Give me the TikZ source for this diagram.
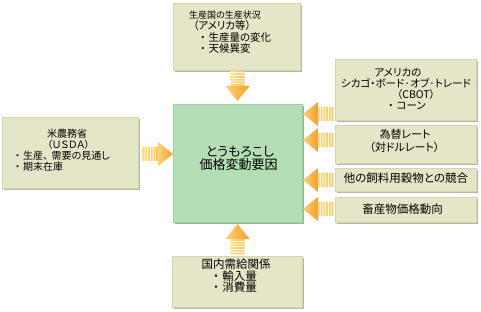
\documentclass[tikz,border=0pt]{standalone}
\usepackage{fontspec}
\setmainfont[RawFeature=+palt]{Noto Sans CJK JP}
\usetikzlibrary{shadows,calc}

\definecolor{boxfill}{HTML}{E5E5C7}
\definecolor{boxedge}{HTML}{D4D4B6}
\definecolor{boxshadow}{HTML}{B8B89C}
\definecolor{mainfill}{HTML}{B4DEB4}
\definecolor{mainedge}{HTML}{A4CEA4}
\definecolor{mainshadow}{HTML}{92B692}
\definecolor{arrowlight}{HTML}{FFDD88}
\definecolor{arrowdark}{HTML}{F2A02C}

% bullet followed by a small gap
\newcommand{\bul}{・\hspace{0.3em}}

\tikzset{
  panel/.style={rectangle, inner sep=0pt, outer sep=0pt, fill=boxfill,
    draw=boxedge, line width=0.5pt,
    drop shadow={shadow xshift=1.6pt, shadow yshift=-1.6pt, fill=boxshadow, opacity=1}},
  mainpanel/.style={rectangle, inner sep=0pt, outer sep=0pt, fill=mainfill,
    draw=mainedge, line width=0.5pt,
    drop shadow={shadow xshift=1.6pt, shadow yshift=-1.6pt, fill=mainshadow, opacity=1}},
  txt/.style={inner sep=0pt, text height=0.88em, text depth=0.12em,
    font=\fontsize{#1}{#1}\selectfont},
  txt/.default=10.5,
  % striped block arrow, tip at the origin, pointing along +x
  pics/blockarrow/.style={code={
    \shade[left color=arrowlight!80!arrowdark, right color=arrowdark]
      (0,0) -- (-15,12) -- (-15,-12) -- cycle;
    \shade[left color=arrowlight, right color=arrowlight!60!arrowdark]
      \foreach \i in {0,...,5} { (-16.8-\i*2.7,-7) rectangle ++(1.8,14) };
  }}
}

\begin{document}
\begin{tikzpicture}[x=1pt, y=-1pt]
  \useasboundingbox[fill=white] (0,0) rectangle (481,312);

  % panels
  \node[panel, minimum width=127pt, minimum height=67pt] (top) at (236.5,36.5) {};
  \node[panel, minimum width=141pt, minimum height=61pt] (r1) at (405.5,89.5) {};
  \node[panel, minimum width=141pt, minimum height=38pt] (r2) at (405.5,144) {};
  \node[panel, minimum width=141pt, minimum height=23pt] (r3) at (405.5,179.5) {};
  \node[panel, minimum width=141pt, minimum height=25pt] (r4) at (405.5,209.5) {};
  \node[panel, minimum width=136pt, minimum height=71pt] (usda) at (70,152.5) {};
  \node[panel, minimum width=130pt, minimum height=51pt] (bottom) at (237,281.5) {};
  \node[mainpanel, minimum width=129pt, minimum height=118pt] (main) at (237.5,163) {};

  % texts of the upper panel
  \node[txt=9, anchor=west] (t1) at (189,15) {生産国の生産状況};
  \node[txt, anchor=west] (t2) at (193,26) {（アメリカ等）};
  \node[txt, anchor=west] (t3) at (200,37.5) {\bul 生産量の変化};
  \node[txt, anchor=west] (t4) at (200,49) {\bul 天候異変};

  % texts of the right-hand panels
  \node[txt] (a1) at (398,73) {アメリカの};
  \node[txt] (a2) at (406,84) {シカゴ・ボード·オブ·トレード};
  \node[txt] (a3) at (416,95) {（CBOT）};
  \node[txt] (a4) at (407,106) {\bul コーン};
  \node[txt=11] (b1) at (405,135) {為替レート};
  \node[txt=11] (b2) at (404.5,148) {（対ドルレート）};
  \node[txt=11.5] (c1) at (406,179) {他の飼料用穀物との競合};
  \node[txt=11.5] (d1) at (402.5,210) {畜産物価格動向};

  % texts of the left panel
  \node[txt=10] (u1) at (67,134) {米農務省};
  \node[txt=10] (u2) at (68.5,145) {（ＵＳＤＡ）};
  \node[txt=10, anchor=west] (u3) at (15,156) {\bul 生産、\hspace{0.35em}需要の見通し};
  \node[txt=10, anchor=west] (u4) at (15,167) {\bul 期末在庫};

  % texts of the lower panel
  \node[txt=11.5] (k1) at (236,265) {国内需給関係};
  \node[txt=11.5, anchor=west] (k2) at (213,276.5) {\bul 輸入量};
  \node[txt=11.5, anchor=west] (k3) at (213,288) {\bul 消費量};

  % central panel
  \node[txt=13] (m1) at (240,153) {とうもろこし};
  \node[txt=13] (m2) at (238.5,166) {価格変動要因};

  % arrows into the central panel
  \pic[rotate=-90] at ($(main.north)+(0,-3)$) {blockarrow};
  \pic[rotate=90]  at ($(main.south)+(0,2)$) {blockarrow};
  \pic at (main.west |- 0,154) {blockarrow};
  \pic[rotate=180] at ($(main.east |- 0,114)+(1,0)$) {blockarrow};
  \pic[rotate=180] at ($(main.east |- 0,140)+(1,0)$) {blockarrow};
  \pic[rotate=180] at ($(main.east |- 0,180)+(1,0)$) {blockarrow};
  \pic[rotate=180] at ($(main.east |- 0,209)+(1,0)$) {blockarrow};
\end{tikzpicture}
\end{document}
